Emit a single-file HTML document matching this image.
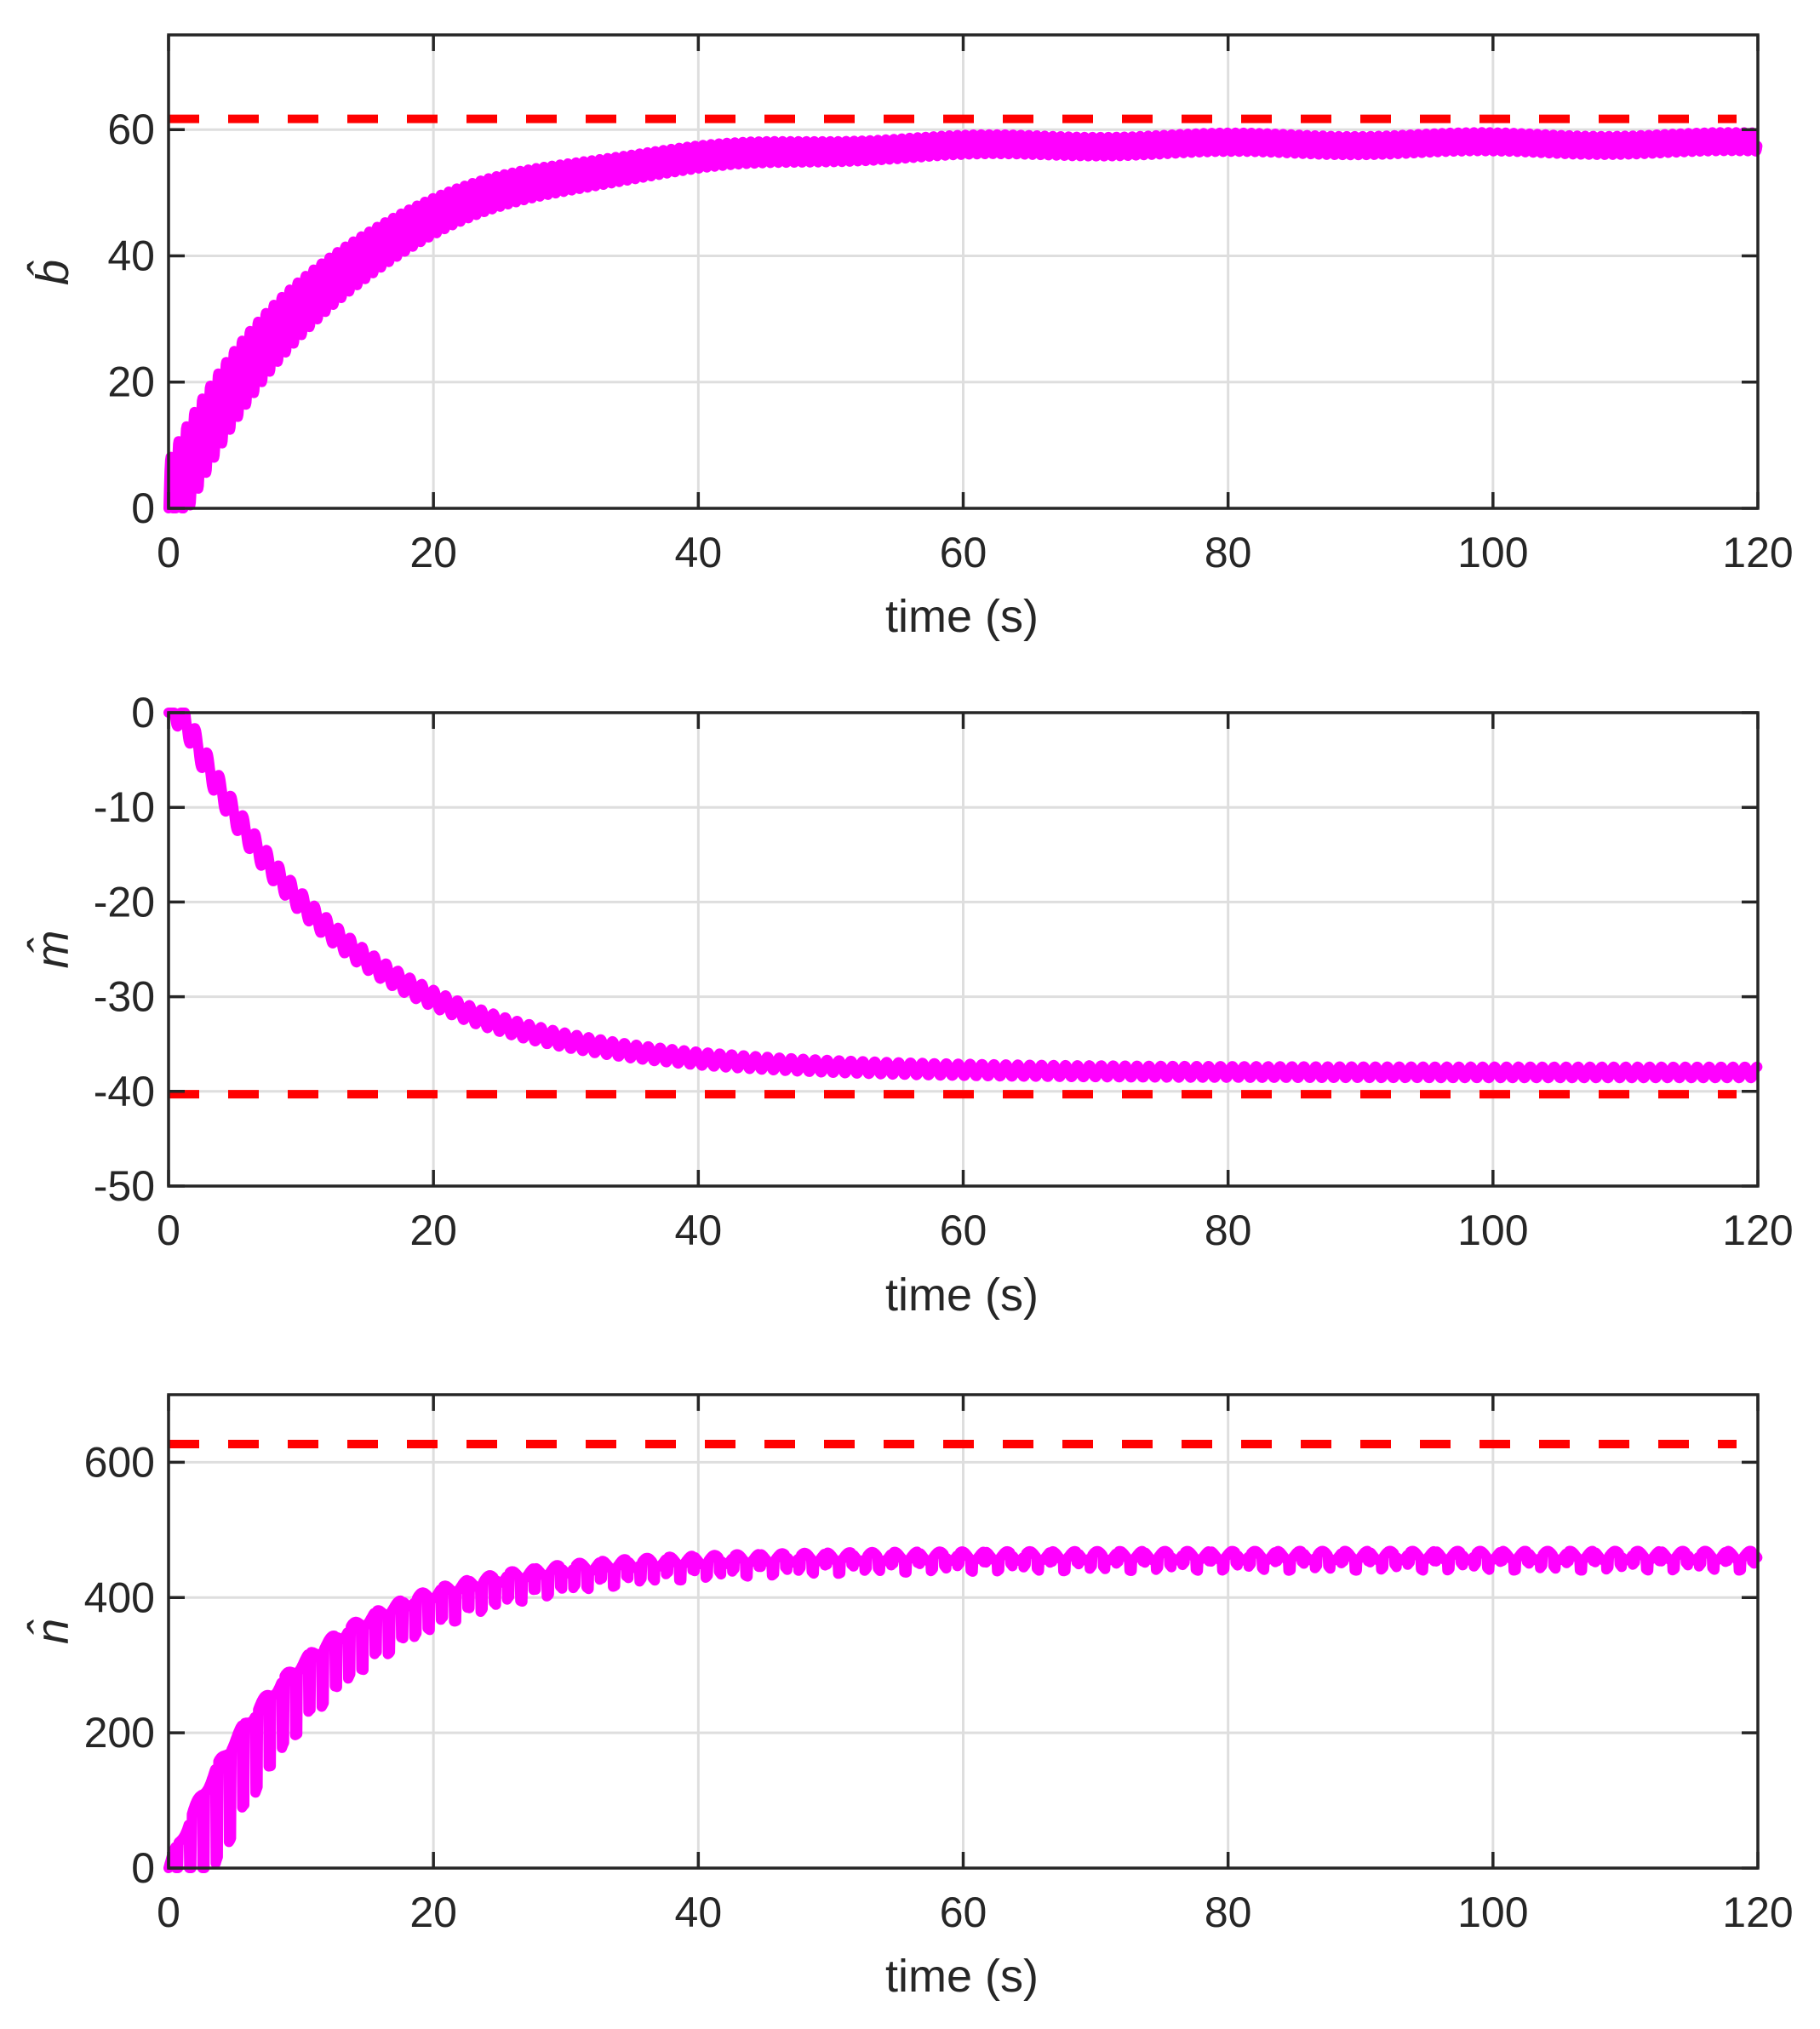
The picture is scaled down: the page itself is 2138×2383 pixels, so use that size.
<!DOCTYPE html>
<html><head><meta charset="utf-8">
<style>
html,body{margin:0;padding:0;background:#fff;}
svg{display:block;}
text{font-family:"Liberation Sans",Arial,sans-serif;fill:#262626;}
</style></head>
<body>
<svg id="s" width="2138" height="2383" viewBox="0 0 2138 2383" xmlns="http://www.w3.org/2000/svg">
<g id="g"></g>
<text x="1130" y="742" font-size="54" text-anchor="middle">time (s)</text>
<text x="1130" y="1539" font-size="54" text-anchor="middle">time (s)</text>
<text x="1130" y="2339" font-size="54" text-anchor="middle">time (s)</text>
<text transform="translate(80,320) rotate(-90)" font-size="54" font-family="Liberation Serif" font-style="italic" text-anchor="middle">b̂</text>
<text transform="translate(80,1115) rotate(-90)" font-size="54" font-family="Liberation Serif" font-style="italic" text-anchor="middle">m̂</text>
<text transform="translate(80,1916) rotate(-90)" font-size="54" font-family="Liberation Serif" font-style="italic" text-anchor="middle">n̂</text>
</svg>
<script>
var L=198,R=2065,W=R-L,H=556;
var panels=[{top:41,y0:0,y1:75,ticks:[0,20,40,60],red:61.7},
{top:837,y0:-50,y1:0,ticks:[-50,-40,-30,-20,-10,0],red:-40.3},
{top:1638,y0:0,y1:700,ticks:[0,200,400,600],red:627}];
var g=document.getElementById('g'),h='';
function X(t){return L+t/120*W;}
panels.forEach(function(p,i){
 var B=p.top+H;function Y(v){return B-(v-p.y0)/(p.y1-p.y0)*H;}
 for(var t=20;t<120;t+=20)h+='<line x1="'+X(t)+'" y1="'+p.top+'" x2="'+X(t)+'" y2="'+B+'" stroke="#dedede" stroke-width="3"/>';
 p.ticks.forEach(function(v){var y=Y(v);if(v!=p.y0&&v!=p.y1)h+='<line x1="'+L+'" y1="'+y+'" x2="'+R+'" y2="'+y+'" stroke="#dedede" stroke-width="3"/>';});
 var ry=Y(p.red);
 h+='<line x1="'+L+'" y1="'+ry+'" x2="2040" y2="'+ry+'" stroke="#ff0000" stroke-width="10" stroke-dasharray="36,34"/>';
 var pts=[];
 for(var t=0;t<=120;t+=0.04){
  var v;
  if(i==0){var m=57.8*(1-Math.exp(-t/12.5));var a=1.5+6*Math.exp(-t/14);v=m+a*Math.sin(2*Math.PI*t/0.6)+0.3*Math.sin(t/3);if(v<0)v=0;}
  else if(i==1){var m=t<1?0:-38*(1-Math.exp(-(t-1)/12));var a=0.6+0.9*Math.exp(-t/20);v=m+a*Math.sin(2*Math.PI*t/0.9);if(v>0)v=0;}
  else{var m=462*(1-Math.exp(-t/9.5));var ph=(t%1.0);var D=170*Math.exp(-t/12)+15;var a=7;v=m+a*Math.sin(2*Math.PI*t/1.7)+(ph>0.55&&ph<0.75?-D:0);if(v<0)v=0;}
  pts.push(X(t).toFixed(1)+','+Y(v).toFixed(1));
 }
 h+='<polyline points="'+pts.join(' ')+'" fill="none" stroke="#ff00ff" stroke-width="12" stroke-linejoin="round" stroke-linecap="round"/>';
 h+='<rect x="'+L+'" y="'+p.top+'" width="'+W+'" height="'+H+'" fill="none" stroke="#262626" stroke-width="3.5"/>';
 for(var t=0;t<=120;t+=20){var x=X(t);
  h+='<line x1="'+x+'" y1="'+B+'" x2="'+x+'" y2="'+(B-19)+'" stroke="#262626" stroke-width="3.5"/>';
  h+='<line x1="'+x+'" y1="'+p.top+'" x2="'+x+'" y2="'+(p.top+19)+'" stroke="#262626" stroke-width="3.5"/>';
  h+='<text x="'+x+'" y="'+(B+69)+'" font-size="50" text-anchor="middle">'+t+'</text>';}
 p.ticks.forEach(function(v){var y=Y(v);
  h+='<line x1="'+L+'" y1="'+y+'" x2="'+(L+19)+'" y2="'+y+'" stroke="#262626" stroke-width="3.5"/>';
  h+='<line x1="'+R+'" y1="'+y+'" x2="'+(R-19)+'" y2="'+y+'" stroke="#262626" stroke-width="3.5"/>';
  h+='<text x="'+(L-16)+'" y="'+(y+17)+'" font-size="50" text-anchor="end">'+v+'</text>';});
});
g.innerHTML=h;
</script>
</body></html>
